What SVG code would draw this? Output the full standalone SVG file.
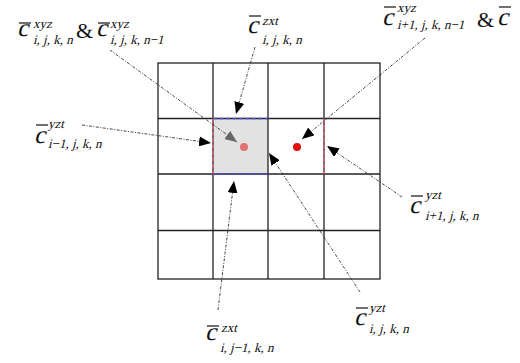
<svg xmlns="http://www.w3.org/2000/svg" width="520" height="363" viewBox="0 0 520 363">
<defs>
<style>
.grid{stroke:#222;stroke-width:1.3;fill:none}
.conn{stroke:#333;stroke-width:0.9;stroke-dasharray:3 1.5 1 1.5;fill:none}
text{font-family:"Liberation Serif","Times New Roman",serif;fill:#111;font-style:normal}
.c{font-size:25px}
.s{font-size:13px}
.amp{font-size:22px}
.ov{stroke:#111;stroke-width:1.2}
</style>
<marker id="ah" viewBox="0 0 12 10" refX="12" refY="5" markerWidth="12" markerHeight="10" markerUnits="userSpaceOnUse" orient="auto">
<path d="M0,0 L12,5 L0,10 Z" fill="#000"/>
</marker>
<marker id="ahg" viewBox="0 0 12 10" refX="12" refY="5" markerWidth="12" markerHeight="10" markerUnits="userSpaceOnUse" orient="auto">
<path d="M0,0 L12,5 L0,10 Z" fill="#666"/>
</marker>
</defs>
<rect width="520" height="363" fill="#fff"/>
<g id="grid">
<rect x="213" y="118.5" width="55" height="55.5" fill="#e2e2e2"/>
<rect class="grid" x="158" y="63" width="222" height="216"/>
<line class="grid" x1="213" y1="63" x2="213" y2="279"/>
<line class="grid" x1="268" y1="63" x2="268" y2="279"/>
<line class="grid" x1="324" y1="63" x2="324" y2="279"/>
<line class="grid" x1="158" y1="118.5" x2="380" y2="118.5"/>
<line class="grid" x1="158" y1="174" x2="380" y2="174"/>
<line class="grid" x1="158" y1="230.5" x2="380" y2="230.5"/>
<line x1="213" y1="118.5" x2="268" y2="118.5" stroke="#4a4ad8" stroke-width="1.5" stroke-dasharray="4 2.5"/>
<line x1="213" y1="174" x2="268" y2="174" stroke="#4a4ad8" stroke-width="1.5" stroke-dasharray="4 2.5"/>
<line x1="213" y1="118.5" x2="213" y2="174" stroke="#e06070" stroke-width="1.5" stroke-dasharray="4 2.5"/>
<line x1="324" y1="118.5" x2="324" y2="174" stroke="#e06070" stroke-width="1.5" stroke-dasharray="4 2.5"/>
<circle cx="244" cy="147" r="4" fill="#e07272"/>
<circle cx="297" cy="147" r="4" fill="#e01010"/>
</g>
<g id="connectors">
<line class="conn" x1="110" y1="50" x2="237" y2="142" marker-end="url(#ahg)"/>
<line class="conn" x1="255" y1="47" x2="236" y2="114" marker-end="url(#ah)"/>
<line class="conn" x1="425" y1="38" x2="302" y2="139" marker-end="url(#ah)"/>
<line class="conn" x1="82" y1="125" x2="211" y2="143" marker-end="url(#ah)"/>
<line class="conn" x1="402" y1="197" x2="327" y2="146" marker-end="url(#ah)"/>
<line class="conn" x1="360" y1="292" x2="269" y2="153" marker-end="url(#ah)"/>
<line class="conn" x1="218" y1="310" x2="234" y2="181" marker-end="url(#ah)"/>
</g>
<g id="label-xyz-ijkn">
<text class="c" transform="translate(17 36) skewX(-14)">c</text>
<line class="ov" x1="19" y1="23" x2="31" y2="23"/>
<text class="s" transform="translate(33 28) skewX(-14)">xyz</text>
<text class="s" transform="translate(33 44) skewX(-14)">i, j, k, n</text>
<text class="amp" x="76" y="38">&amp;</text>
<text class="c" transform="translate(96 36) skewX(-14)">c</text>
<line class="ov" x1="98" y1="23" x2="110" y2="23"/>
<text class="s" transform="translate(110 28) skewX(-14)">xyz</text>
<text class="s" transform="translate(110 44) skewX(-14)">i, j, k, n−1</text>
</g>
<g id="label-zxt-ijkn">
<text class="c" transform="translate(247 33) skewX(-14)">c</text>
<line class="ov" x1="249" y1="16" x2="261" y2="16"/>
<text class="s" transform="translate(262 25) skewX(-14)">zxt</text>
<text class="s" transform="translate(262 44) skewX(-14)">i, j, k, n</text>
</g>
<g id="label-xyz-i1">
<text class="c" transform="translate(382 25) skewX(-14)">c</text>
<line class="ov" x1="384" y1="7" x2="396" y2="7"/>
<text class="s" transform="translate(397 12) skewX(-14)">xyz</text>
<text class="s" transform="translate(397 29) skewX(-14)">i+1, j, k, n−1</text>
<text class="amp" x="477" y="27">&amp;</text>
<text class="c" transform="translate(497 25) skewX(-14)">c</text>
<line class="ov" x1="499" y1="7" x2="511" y2="7"/>
</g>
<g id="label-yzt-im1">
<text class="c" transform="translate(34 143) skewX(-14)">c</text>
<line class="ov" x1="36" y1="125" x2="48" y2="125"/>
<text class="s" transform="translate(48 128) skewX(-14)">yzt</text>
<text class="s" transform="translate(48 148) skewX(-14)">i−1, j, k, n</text>
</g>
<g id="label-yzt-ip1">
<text class="c" transform="translate(409 213) skewX(-14)">c</text>
<line class="ov" x1="411" y1="196" x2="423" y2="196"/>
<text class="s" transform="translate(425 199) skewX(-14)">yzt</text>
<text class="s" transform="translate(425 220) skewX(-14)">i+1, j, k, n</text>
</g>
<g id="label-yzt-ijkn">
<text class="c" transform="translate(354 325) skewX(-14)">c</text>
<line class="ov" x1="356" y1="308" x2="368" y2="308"/>
<text class="s" transform="translate(369 312) skewX(-14)">yzt</text>
<text class="s" transform="translate(369 333) skewX(-14)">i, j, k, n</text>
</g>
<g id="label-zxt-jm1">
<text class="c" transform="translate(205 340) skewX(-14)">c</text>
<line class="ov" x1="207" y1="326" x2="219" y2="326"/>
<text class="s" transform="translate(221 332) skewX(-14)">zxt</text>
<text class="s" transform="translate(220 352) skewX(-14)">i, j−1, k, n</text>
</g>
</svg>
